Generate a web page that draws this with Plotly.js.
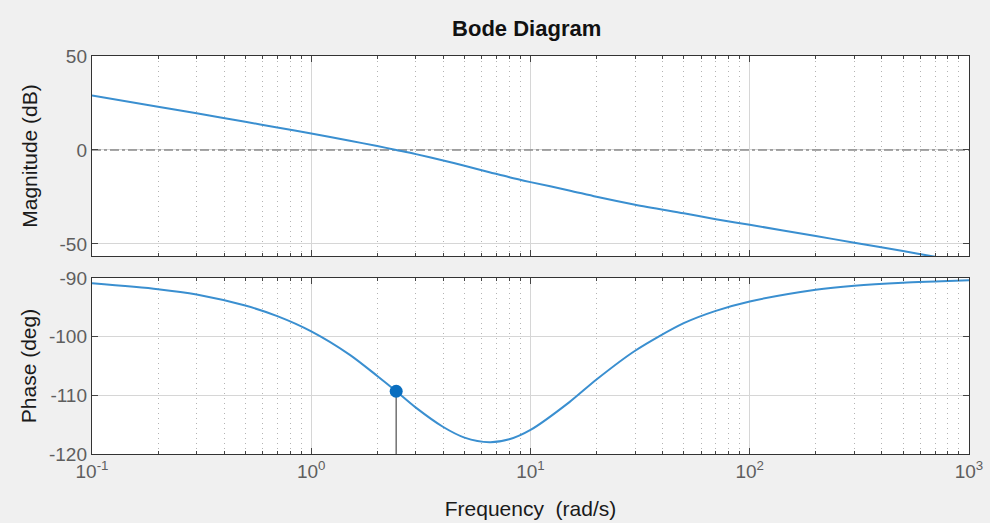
<!DOCTYPE html>
<html>
<head>
<meta charset="utf-8">
<script src="https://cdn.plot.ly/plotly-3.0.1.min.js"></script>
<style>html,body{margin:0;padding:0;background:#f0f0f0;}#chart{width:990px;height:523px;}</style>
</head>
<body>
<div id="chart"></div>
<script>
const freq = [0.1, 0.2, 0.3, 0.5, 0.7, 1, 1.5, 2, 2.44, 3, 4, 5, 6.5, 8, 10, 15, 20, 30, 50, 70, 100, 200, 300, 500, 700, 1000];
// Magnitude (dB)
const magDb = [29.0, 23.0, 19.5, 15.0, 12.0, 8.8, 4.9, 2.1, 0.0, -2.2, -5.6, -8.4, -11.8, -14.5, -17.1, -21.5, -24.9, -29.1, -33.7, -36.8, -39.8, -45.8, -49.3, -53.8, -56.8, -59.8];
// Phase (deg)
const phaseDeg = [-90.9, -91.9, -92.8, -94.7, -96.5, -99.1, -103.1, -106.7, -109.3, -112.1, -115.4, -117.2, -118.0, -117.5, -115.9, -111.2, -107.3, -102.4, -97.7, -95.6, -94.0, -92.0, -91.3, -90.8, -90.6, -90.4];
// Gain crossover point (phase margin marker)
const crossFreq = [2.44];
const crossPhase = [-109.3];
const phaseBottom = -120;
const zeroDb = [0, 0];
const freqSpan = [0.1, 1000];
// tick labels
const xTickVals = [0.1, 1, 10, 100, 1000];
const xTickText = ['10<sup>-1</sup>', '10<sup>0</sup>', '10<sup>1</sup>', '10<sup>2</sup>', '10<sup>3</sup>'];
const magTicks = [-50, 0, 50];
const magTickText = ['-50', '0', '50'];
const phaseTicks = [-120, -110, -100, -90];
const phaseTickText = ['-120', '-110', '-100', '-90'];

const lineColor = '#3a8fd0';
const traces = [
  {x: freqSpan, y: zeroDb, xaxis: 'x', yaxis: 'y', mode: 'lines',
   line: {color: '#8a8a8a', width: 1.5, dash: 'dashdot'}, hoverinfo: 'skip'},
  {x: freq, y: magDb, xaxis: 'x', yaxis: 'y', mode: 'lines',
   line: {color: lineColor, width: 2, shape: 'spline', smoothing: 0.8}, name: 'Magnitude'},
  {x: [crossFreq[0], crossFreq[0]], y: [crossPhase[0], phaseBottom], xaxis: 'x2', yaxis: 'y2', mode: 'lines',
   line: {color: '#707070', width: 1.5}, hoverinfo: 'skip'},
  {x: freq, y: phaseDeg, xaxis: 'x2', yaxis: 'y2', mode: 'lines',
   line: {color: lineColor, width: 2, shape: 'spline', smoothing: 0.8}, name: 'Phase'},
  {x: crossFreq, y: crossPhase, xaxis: 'x2', yaxis: 'y2', mode: 'markers',
   marker: {color: '#0a6ebf', size: 13}, name: 'Crossover'}
];

const fam = 'Liberation Sans, Arial, sans-serif';
const tickFont = {family: fam, size: 19, color: '#5e5e5e'};
const titleFont = {family: fam, size: 21, color: '#1a1a1a'};
const minorX = {dtick: 'D1', ticks: 'inside', ticklen: 3, tickcolor: '#444', showgrid: true, gridcolor: '#b4b4b4', griddash: '1px,4px', gridwidth: 1};

const xBase = {
  type: 'log', range: [-1, 3], tickvals: xTickVals, ticktext: xTickText,
  ticks: 'inside', ticklen: 6, tickcolor: '#444', showline: true, linecolor: '#333', linewidth: 1.2,
  mirror: 'allticks', showgrid: true, gridcolor: '#d6d6d6', gridwidth: 1, zeroline: false,
  tickfont: tickFont, minor: minorX, fixedrange: true
};

const layout = {
  width: 990, height: 523,
  paper_bgcolor: '#f0f0f0', plot_bgcolor: '#ffffff',
  margin: {l: 92, r: 21, t: 56, b: 69},
  showlegend: false,
  title: {text: '<b>Bode Diagram</b>', font: {family: fam, size: 22, color: '#111'}, x: 0.532, xanchor: 'center', y: 0.945, yanchor: 'middle'},
  xaxis: Object.assign({}, xBase, {anchor: 'y', showticklabels: false, matches: 'x2'}),
  xaxis2: Object.assign({}, xBase, {anchor: 'y2', showticklabels: true,
    title: {text: 'Frequency  (rad/s)', font: titleFont, standoff: 20}}),
  yaxis: {domain: [0.4975, 1], range: [-56.4, 50], tickvals: magTicks, ticktext: magTickText, ticks: 'inside', ticklen: 6, tickcolor: '#444',
    showline: true, linecolor: '#333', linewidth: 1.2, mirror: 'allticks', showgrid: true, gridcolor: '#d6d6d6',
    zeroline: false, tickfont: tickFont, fixedrange: true,
    title: {text: 'Magnitude (dB)', font: titleFont, standoff: 16}},
  yaxis2: {domain: [0, 0.4422], range: [-120, -90], tickvals: phaseTicks, ticktext: phaseTickText, ticks: 'inside', ticklen: 6, tickcolor: '#444',
    showline: true, linecolor: '#333', linewidth: 1.2, mirror: 'allticks', showgrid: true, gridcolor: '#d6d6d6',
    zeroline: false, tickfont: tickFont, fixedrange: true,
    title: {text: 'Phase (deg)', font: titleFont, standoff: 6}}
};

Plotly.newPlot('chart', traces, layout, {displayModeBar: false, staticPlot: true});
</script>
</body>
</html>
